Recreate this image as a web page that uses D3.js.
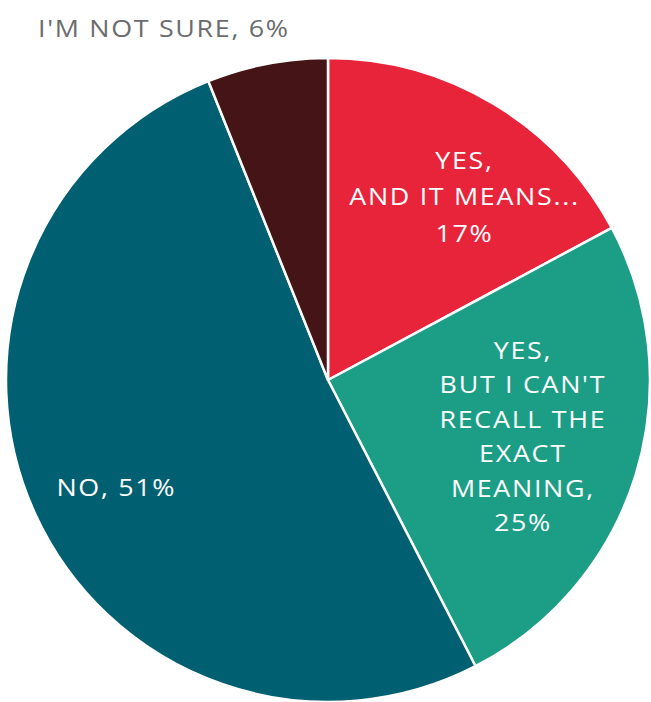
<!DOCTYPE html>
<html>
<head>
<meta charset="utf-8">
<script src="https://cdn.jsdelivr.net/npm/d3@7"></script>
<style>
  html, body { margin: 0; padding: 0; background: #ffffff; }
  svg { display: block; }
  text { font-family: "Open Sans", Lato, sans-serif; }
</style>
</head>
<body>
<svg id="chart" width="651" height="702"></svg>
<script>
// ---- data ----
const categories = ["YES, AND IT MEANS...", "YES, BUT I CAN'T RECALL THE EXACT MEANING", "NO", "I'M NOT SURE"];
const values = [17, 25, 51, 6];
const labelLines = [
  ["YES,", "AND IT MEANS...", "17%"],
  ["YES,", "BUT I CAN'T", "RECALL THE", "EXACT", "MEANING,", "25%"],
  ["NO, 51%"],
  ["I'M NOT SURE, 6%"]
];
const colors = ["#E8243B", "#1B9E85", "#015F72", "#441416"];

// ---- layout ----
const W = 651, H = 702;
const cx = 328, cy = 380, R = 322;
const FS = 24, LS = 1.5, SX = 1.12;

const svg = d3.select("#chart");
const g = svg.append("g").attr("transform", `translate(${cx},${cy})`);

const pie = d3.pie().sort(null).value(d => d)(values);
const arc = d3.arc().innerRadius(0).outerRadius(R);

g.selectAll("path.slice")
  .data(pie)
  .join("path")
  .attr("class", "slice")
  .attr("d", arc)
  .attr("fill", (d, i) => colors[i])
  .attr("stroke", "#ffffff")
  .attr("stroke-width", 2.5)
  .attr("stroke-linejoin", "round");

// label placement: radius fraction, angle offset (rad), anchor, line height
const labelCfg = [
  { r: 0.71, da: 0.10, anchor: "middle", lh: 36.5 },
  { r: 0.63, da: -0.02, anchor: "middle", lh: 34.5 },
  { r: 0.75, da: -0.03, anchor: "start", lh: 34, dx: -55 },
  null
];

function addLabel(parent, x, y, lines, anchor, lh, fill) {
  const grp = parent.append("g").attr("transform", `translate(${x},${y}) scale(${SX},1)`);
  const t = grp.append("text")
    .attr("text-anchor", anchor)
    .attr("fill", fill)
    .attr("font-size", FS)
    .attr("font-weight", 400)
    .attr("letter-spacing", LS);
  const y0 = -(lines.length - 1) * lh / 2 + FS * 0.36;
  lines.forEach((ln, j) => {
    t.append("tspan").attr("x", 0).attr("y", y0 + j * lh).text(ln);
  });
}

pie.forEach((d, i) => {
  const cfg = labelCfg[i];
  if (!cfg) return;
  const a = (d.startAngle + d.endAngle) / 2 + cfg.da;
  const x = Math.sin(a) * R * cfg.r + (cfg.dx || 0);
  const y = -Math.cos(a) * R * cfg.r;
  addLabel(g, x, y, labelLines[i], cfg.anchor, cfg.lh, "#ffffff");
});

// outside label for the small slice
addLabel(svg, 38, 37 - FS * 0.36, labelLines[3], "start", 0, "#6b6c6e");
</script>
</body>
</html>
